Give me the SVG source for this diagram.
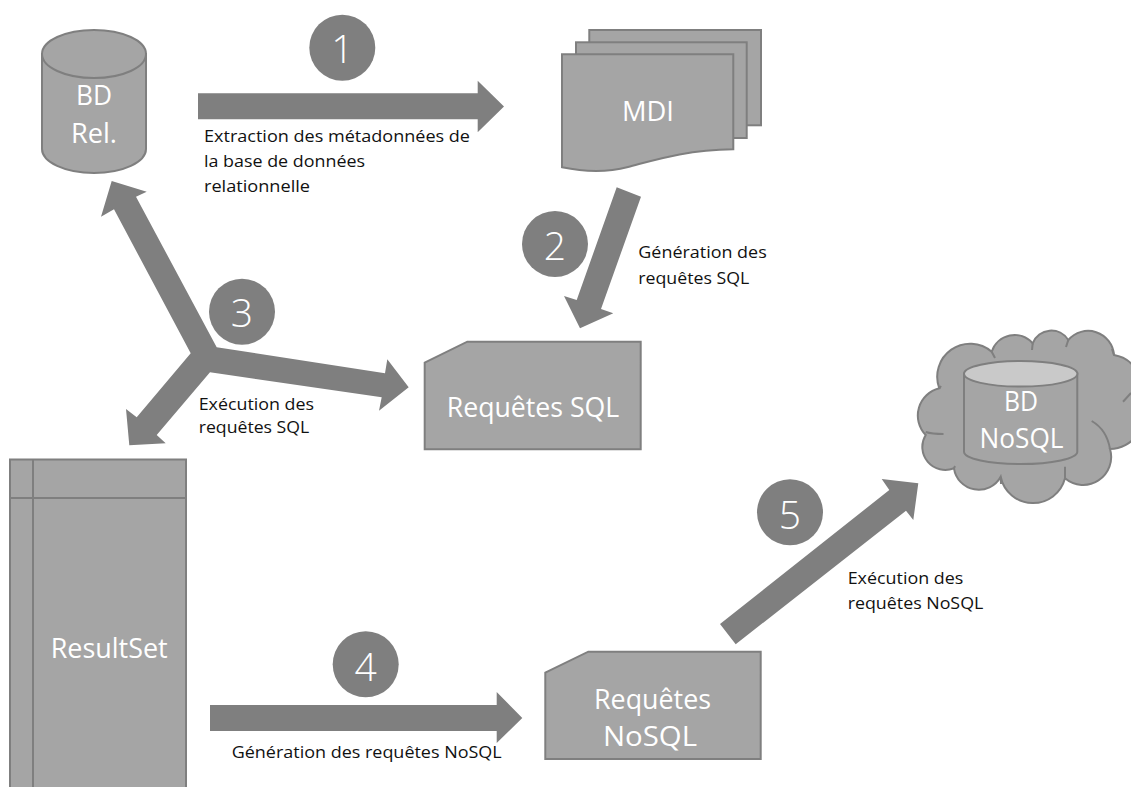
<svg xmlns="http://www.w3.org/2000/svg" width="1131" height="787" viewBox="0 0 1131 787">
<style>
.shape{fill:#a5a5a5;stroke:#7f7f7f;stroke-width:2;stroke-linejoin:miter}
.line{fill:none;stroke:#7f7f7f;stroke-width:2}
.arrow{fill:#7f7f7f;stroke:none}
.badge{fill:#7f7f7f;stroke:none}
text{font-family:"Open Sans","Noto Sans","Liberation Sans",sans-serif}
.white{fill:#fff;font-size:28px;font-weight:400}
.num{fill:#fff;font-size:39px;font-weight:300;text-anchor:middle}
.label{fill:#111;font-size:17px}
</style>
<rect width="1131" height="787" fill="#fff"/>
<g id="connectors">
<path class="arrow" d="M198,93.3H477.7V80.7L504,106.5L477.7,132.3V119.3H198Z"/>
<path class="arrow" d="M616.7,187.3L641,196.7L601,309L613.3,313.3L580,328.3L564,296L576.7,300Z"/>
<path class="arrow" d="M111.7,181L146.7,191.7L136,196.7L216.7,347.3L385,373.3L387.3,359.3L408.7,387.3L379,410.7L381.7,397.3L210,372.3L156.7,435L165.7,443.3L129.3,445.3L126,409L136.7,417.3L190.7,353.3L114,209.3L101,216.7Z"/>
<path class="arrow" d="M210,705H496.7V692L522.3,718L496.7,743V731H210Z"/>
<path class="arrow" d="M720,624L889.3,490L881.7,479L918.3,483.3L913.3,520L906,510.7L735.7,644.3Z"/>
</g>
<g id="bd-rel">
<path class="shape" d="M42,54V149C42,162 65,173 94,173C123,173 146,162 146,149V54Z"/>
<ellipse class="shape" cx="94" cy="54" rx="52" ry="24"/>
<text class="white" x="76" y="105" textLength="36" lengthAdjust="spacingAndGlyphs">BD</text>
<text class="white" x="71" y="143" textLength="46" lengthAdjust="spacingAndGlyphs">Rel.</text>
</g>
<g id="mdi">
<rect class="shape" x="589.3" y="30" width="171.7" height="95.3"/>
<rect class="shape" x="576" y="42.3" width="170.7" height="95.7"/>
<path class="shape" d="M562,54.3H733.3V149.3C685,150 655,160 628,167C605,173 585,172 562,167.3Z"/>
<text class="white" x="622" y="120.7" textLength="52" lengthAdjust="spacingAndGlyphs">MDI</text>
</g>
<g id="requetes-sql">
<path class="shape" d="M424.7,362.7L467.3,341.7H640.7V449.3H424.7Z"/>
<text class="white" x="446.7" y="417.3" textLength="172.6" lengthAdjust="spacingAndGlyphs">Requêtes SQL</text>
</g>
<g id="resultset">
<rect class="shape" x="10" y="459.5" width="176" height="340"/>
<path class="line" d="M33,459.5V787M10,498H186"/>
<text class="white" x="50.7" y="658.3" textLength="117" lengthAdjust="spacingAndGlyphs">ResultSet</text>
</g>
<g id="requetes-nosql">
<path class="shape" d="M545.3,672.7L588.3,651.7H760.7V759H545.3Z"/>
<text class="white" x="594" y="709" textLength="117" lengthAdjust="spacingAndGlyphs">Requêtes</text>
<text class="white" x="603" y="746" textLength="94" lengthAdjust="spacingAndGlyphs">NoSQL</text>
</g>
<g id="bd-nosql">
<path class="shape" d="M939.3,388.3A33,33 0 0 1 991.7,351.7A24,24 0 0 1 1032.7,343.3A20,20 0 0 1 1068.3,340A26,26 0 0 1 1114,355A34,34 0 0 1 1140,400A34,34 0 0 1 1110,449A28,28 0 0 1 1065,478.3A33,33 0 0 1 1000.7,476.7A25,25 0 0 1 954,468.3A23,23 0 0 1 925.7,435A28,28 0 0 1 939.3,388.3Z"/>
<path class="line" d="M1091.7,421C1102,427 1108,437 1110,449M1123,401.7L1131,393M1065,466.7L1065,478.3M925.7,432C932,434 938,434 943.5,434M954,468.3L955,466M939.3,388.3L941,386M991.7,351.7L995,358M1032.7,343.3L1032,350M1068.3,340L1066,347M1114,355L1112,349M1000.7,476.7L1001,484"/>
<path class="shape" d="M964,373.8V451.7C964,458.5 989,464 1020.7,464C1052,464 1077.3,458.5 1077.3,451.7V373.8Z"/>
<ellipse class="shape" cx="1020.7" cy="373.8" rx="56.7" ry="12.8" style="fill:#c9c9c9"/>
<text class="white" x="1004" y="410.7" textLength="34" lengthAdjust="spacingAndGlyphs">BD</text>
<text class="white" x="979.5" y="448.3" textLength="84" lengthAdjust="spacingAndGlyphs">NoSQL</text>
</g>
<g id="step-1"><circle class="badge" cx="342.3" cy="47.7" r="33"/><text class="num" x="342.3" y="63.3">1</text></g>
<g id="step-2"><circle class="badge" cx="555" cy="244" r="33"/><text class="num" x="555" y="260">2</text></g>
<g id="step-3"><circle class="badge" cx="242" cy="311.7" r="33"/><text class="num" x="242" y="327.3">3</text></g>
<g id="step-4"><circle class="badge" cx="365.7" cy="664.3" r="33"/><text class="num" x="365.7" y="681">4</text></g>
<g id="step-5"><circle class="badge" cx="790" cy="512.3" r="33"/><text class="num" x="790" y="529">5</text></g>
<g id="labels">
<text class="label" x="204" y="141.7" textLength="266" lengthAdjust="spacingAndGlyphs">Extraction des métadonnées de</text>
<text class="label" x="204" y="166.7" textLength="161" lengthAdjust="spacingAndGlyphs">la base de données</text>
<text class="label" x="204" y="191.7" textLength="106" lengthAdjust="spacingAndGlyphs">relationnelle</text>
<text class="label" x="638.3" y="258.3" textLength="128.4" lengthAdjust="spacingAndGlyphs">Génération des</text>
<text class="label" x="638.3" y="284" textLength="111" lengthAdjust="spacingAndGlyphs">requêtes SQL</text>
<text class="label" x="198.7" y="410" textLength="115.3" lengthAdjust="spacingAndGlyphs">Exécution des</text>
<text class="label" x="198.7" y="433.3" textLength="110.6" lengthAdjust="spacingAndGlyphs">requêtes SQL</text>
<text class="label" x="847.7" y="584" textLength="115.6" lengthAdjust="spacingAndGlyphs">Exécution des</text>
<text class="label" x="847.7" y="609" textLength="135.6" lengthAdjust="spacingAndGlyphs">requêtes NoSQL</text>
<text class="label" x="231.7" y="758" textLength="270" lengthAdjust="spacingAndGlyphs">Génération des requêtes NoSQL</text>
</g>
</svg>
